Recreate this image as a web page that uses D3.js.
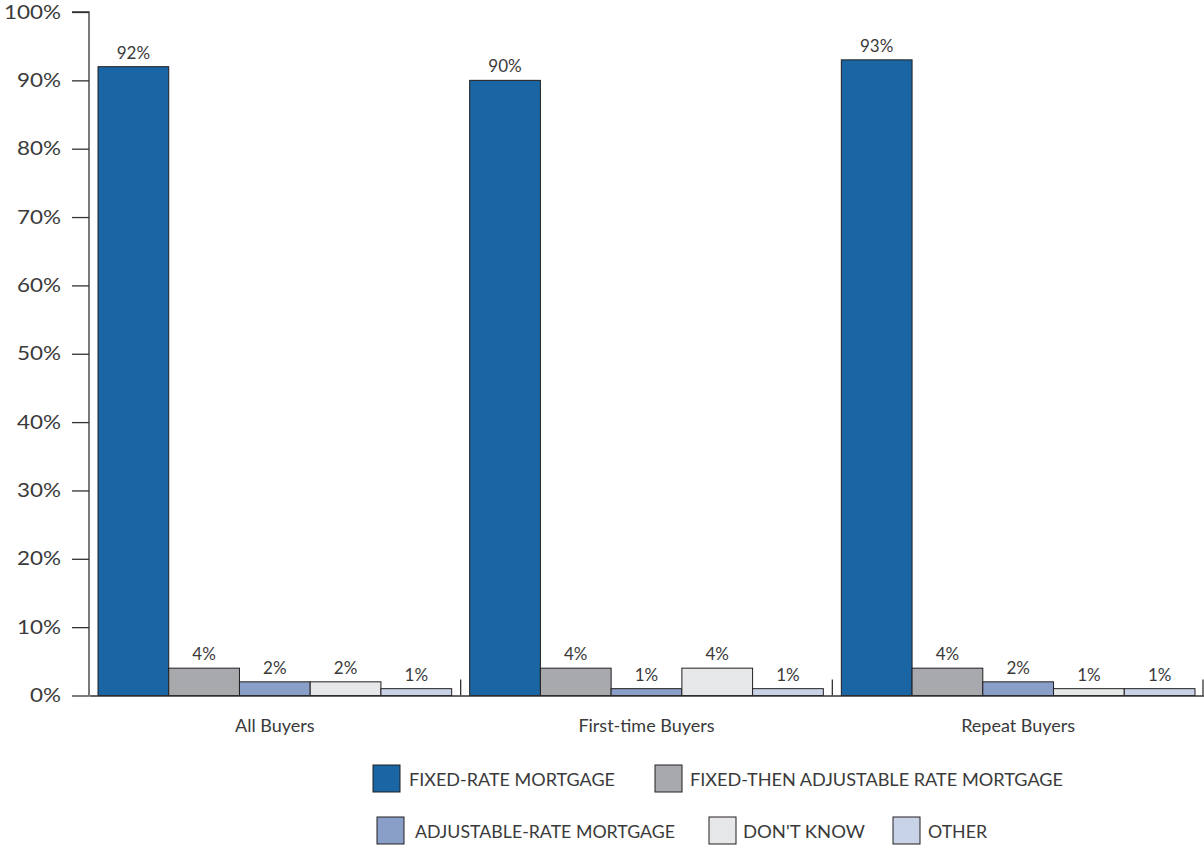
<!DOCTYPE html>
<html>
<head>
<meta charset="utf-8">
<script src="https://cdn.jsdelivr.net/npm/d3@7"></script>
<style>
  html, body { margin: 0; padding: 0; background: #fff; }
  svg { display: block; }
  text { font-family: Lato, "Open Sans", sans-serif; fill: #3a3a3a; font-weight: 400; }
</style>
</head>
<body>
<svg id="chart" width="1204" height="846"></svg>
<script>
const categories = ["All Buyers", "First-time Buyers", "Repeat Buyers"];
const seriesNames = ["FIXED-RATE MORTGAGE", "FIXED-THEN ADJUSTABLE RATE MORTGAGE", "ADJUSTABLE-RATE MORTGAGE", "DON'T KNOW", "OTHER"];
const fixedRate = [92, 90, 93];
const fixedThenAdjustable = [4, 4, 4];
const adjustableRate = [2, 1, 2];
const dontKnow = [2, 4, 1];
const other = [1, 1, 1];
const seriesColors = ["#1a65a4", "#a7a9ac", "#8a9fc8", "#e6e7e8", "#c9d3e8"];
const yTicks = [0, 10, 20, 30, 40, 50, 60, 70, 80, 90, 100];

const seriesValues = [fixedRate, fixedThenAdjustable, adjustableRate, dontKnow, other];
const data = categories.map((c, i) => ({
  category: c,
  values: seriesNames.map((s, j) => ({ series: s, value: seriesValues[j][i], color: seriesColors[j] }))
}));

const svg = d3.select("#chart");
const y = d3.scaleLinear().domain([0, 100]).range([695.5, 12]);
const x0 = d3.scaleBand().domain(categories).range([89, 1204]).padding(0);
const x1 = d3.scaleBand().domain(seriesNames).range([9, x0.bandwidth() - 9]).padding(0);

// y axis
const yAxis = d3.axisLeft(y).tickValues(yTicks).tickFormat(d => d + "%").tickSize(17).tickPadding(11);
const yg = svg.append("g").attr("transform", "translate(89,0)").call(yAxis);
yg.select(".domain").attr("stroke", "#333").attr("stroke-width", 1.3).attr("d", `M-17,${y(100)}H0V${y(0)}`);
yg.selectAll(".tick line").attr("stroke", "#333").attr("stroke-width", 1.3);
yg.selectAll(".tick text").attr("font-size", 19).attr("font-family", "Lato, sans-serif").attr("fill", "#3a3a3a")
  .attr("textLength", d => d === 100 ? 57 : (d === 0 ? 31 : 44)).attr("lengthAdjust", "spacingAndGlyphs");

// groups
const groups = svg.append("g").selectAll("g").data(data).join("g")
  .attr("transform", d => `translate(${x0(d.category)},0)`);

groups.selectAll("rect").data(d => d.values).join("rect")
  .attr("x", d => x1(d.series))
  .attr("y", d => y(d.value))
  .attr("width", x1.bandwidth())
  .attr("height", d => y(0) - y(d.value))
  .attr("fill", d => d.color)
  .attr("stroke", "#231f20")
  .attr("stroke-width", 1);

groups.selectAll("text.val").data(d => d.values).join("text")
  .attr("class", "val")
  .attr("x", d => x1(d.series) + x1.bandwidth() / 2)
  .attr("y", d => y(d.value) - 8)
  .attr("text-anchor", "middle")
  .attr("font-size", 17)
  .text(d => d.value + "%");

// x axis baseline & separators
const xAxis = d3.axisBottom(x0).tickSize(0).tickPadding(24);
const xg = svg.append("g").attr("transform", `translate(0,${y(0)})`).call(xAxis);
xg.select(".domain").attr("stroke", "#333").attr("stroke-width", 1.3);
xg.selectAll(".tick text").attr("font-size", 18).attr("font-family", "Lato, sans-serif").attr("fill", "#3a3a3a");

svg.append("g").selectAll("line").data(categories.slice(1).concat(["__end"])).join("line")
  .attr("x1", d => d === "__end" ? 1203 : x0(d))
  .attr("x2", d => d === "__end" ? 1203 : x0(d))
  .attr("y1", y(0) - 16)
  .attr("y2", y(0))
  .attr("stroke", "#333")
  .attr("stroke-width", 1.3);

// legend
const legendItems = [
  { name: seriesNames[0], color: seriesColors[0], x: 373, y: 765, tx: 409, tw: 206 },
  { name: seriesNames[1], color: seriesColors[1], x: 655, y: 765, tx: 690, tw: 373 },
  { name: seriesNames[2], color: seriesColors[2], x: 377, y: 817, tx: 415, tw: 260 },
  { name: seriesNames[3], color: seriesColors[3], x: 709, y: 817, tx: 743, tw: 122 },
  { name: seriesNames[4], color: seriesColors[4], x: 893, y: 817, tx: 928, tw: 59 }
];
const lg = svg.append("g").selectAll("g").data(legendItems).join("g");
lg.append("rect")
  .attr("x", d => d.x).attr("y", d => d.y)
  .attr("width", 27).attr("height", 27)
  .attr("fill", d => d.color).attr("stroke", "#231f20").attr("stroke-width", 1);
lg.append("text")
  .attr("x", d => d.tx).attr("y", d => d.y + 14)
  .attr("dominant-baseline", "central")
  .attr("font-size", 17)
  .attr("textLength", d => d.tw)
  .attr("lengthAdjust", "spacingAndGlyphs")
  .text(d => d.name);
</script>
</body>
</html>
